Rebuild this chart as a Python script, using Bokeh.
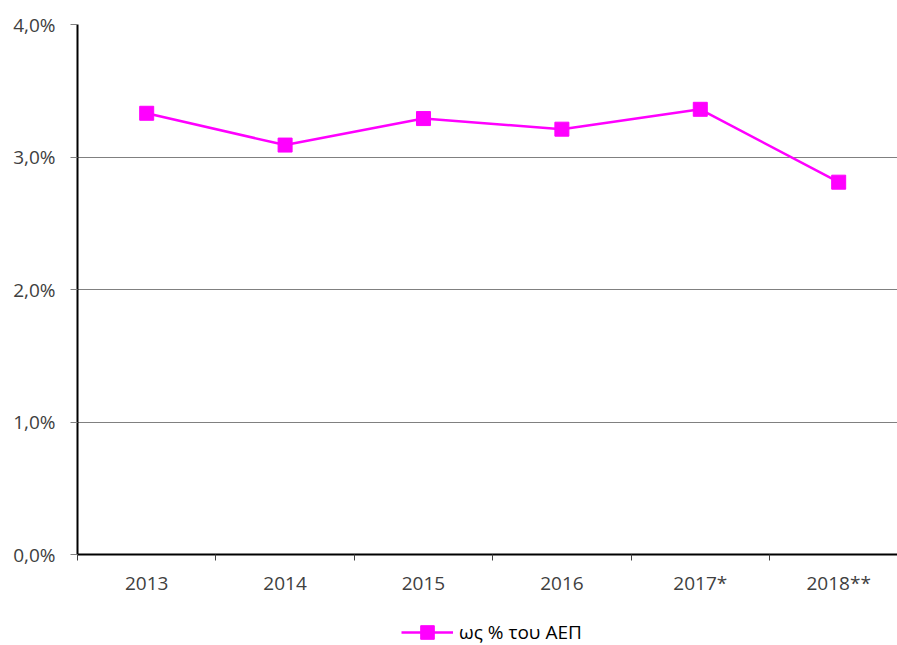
from bokeh.plotting import figure
from bokeh.layouts import column
from bokeh.models import FixedTicker, Range1d, Legend, LegendItem, ColumnDataSource
from bokeh.embed import file_html
from bokeh.resources import INLINE

categories = ["2013", "2014", "2015", "2016", "2017*", "2018**"]
values = [3.33, 3.09, 3.29, 3.21, 3.36, 2.81]
y_ticks = [0, 1, 2, 3, 4]
y_labels = ["0,0%", "1,0%", "2,0%", "3,0%", "4,0%"]
series_name = "ως % του ΑΕΠ"

FONT = "Open Sans"
TXT = "#404040"
MAG = "#FF00FF"

xs = list(range(len(categories)))
src = ColumnDataSource(dict(x=xs, y=values))

p = figure(width=897, height=615, output_backend="svg", toolbar_location=None,
           x_range=Range1d(-0.5, 5.425), y_range=Range1d(0, 4),
           min_border_left=77, min_border_right=0, min_border_top=24,
           min_border_bottom=61)
p.outline_line_color = None
p.background_fill_color = "white"
p.border_fill_color = "white"

p.xgrid.visible = False
p.ygrid.ticker = FixedTicker(ticks=y_ticks)
p.ygrid.grid_line_color = "#808080"
p.ygrid.grid_line_width = 1

ya = p.yaxis[0]
ya.ticker = FixedTicker(ticks=y_ticks)
ya.major_label_overrides = {t: l for t, l in zip(y_ticks, y_labels)}
ya.axis_line_color = "black"
ya.axis_line_width = 2
ya.major_tick_out = 7
ya.major_tick_in = 0
ya.major_tick_line_color = "#808080"
ya.minor_tick_line_color = None
ya.major_label_standoff = 15
ya.major_label_text_font = FONT
ya.major_label_text_font_size = "19px"
ya.major_label_text_color = TXT

xa = p.xaxis[0]
bounds = [i - 0.5 for i in range(len(categories) + 1)]
xa.ticker = FixedTicker(ticks=xs, minor_ticks=bounds)
xa.major_label_overrides = {i: c for i, c in zip(xs, categories)}
xa.axis_line_color = "black"
xa.axis_line_width = 2
xa.major_tick_line_color = None
xa.major_tick_out = 6
xa.minor_tick_out = 6
xa.minor_tick_in = 0
xa.minor_tick_line_color = "#404040"
xa.major_label_standoff = 9
xa.major_label_text_font = FONT
xa.major_label_text_font_size = "19px"
xa.major_label_text_color = TXT

p.line("x", "y", source=src, line_color=MAG, line_width=2.5)
p.scatter("x", "y", source=src, marker="square", size=14,
          fill_color=MAG, line_color=MAG)

# legend strip below the chart (same series, out of this strip's visible range)
lg = figure(width=897, height=34, output_backend="svg", toolbar_location=None,
            x_axis_type=None, y_axis_type=None,
            x_range=Range1d(100, 101), y_range=Range1d(100, 101),
            min_border_left=0, min_border_right=0, min_border_top=0,
            min_border_bottom=0)
lg.outline_line_color = None
lg.xgrid.visible = False
lg.ygrid.visible = False
lr = lg.line("x", "y", source=src, line_color=MAG, line_width=2.5)
sr = lg.scatter("x", "y", source=src, marker="square", size=14,
                fill_color=MAG, line_color=MAG)
legend = Legend(items=[LegendItem(label=series_name, renderers=[lr, sr])],
                location=(324, 0), orientation="horizontal",
                glyph_width=52, glyph_height=34, label_text_font=FONT,
                label_text_font_size="19px", label_text_color="black",
                border_line_color=None, background_fill_alpha=0,
                padding=0, margin=0, label_standoff=6, spacing=0)
lg.add_layout(legend, "center")

layout = column(p, lg, spacing=0)
open("out.html", "w").write(file_html(layout, INLINE))
